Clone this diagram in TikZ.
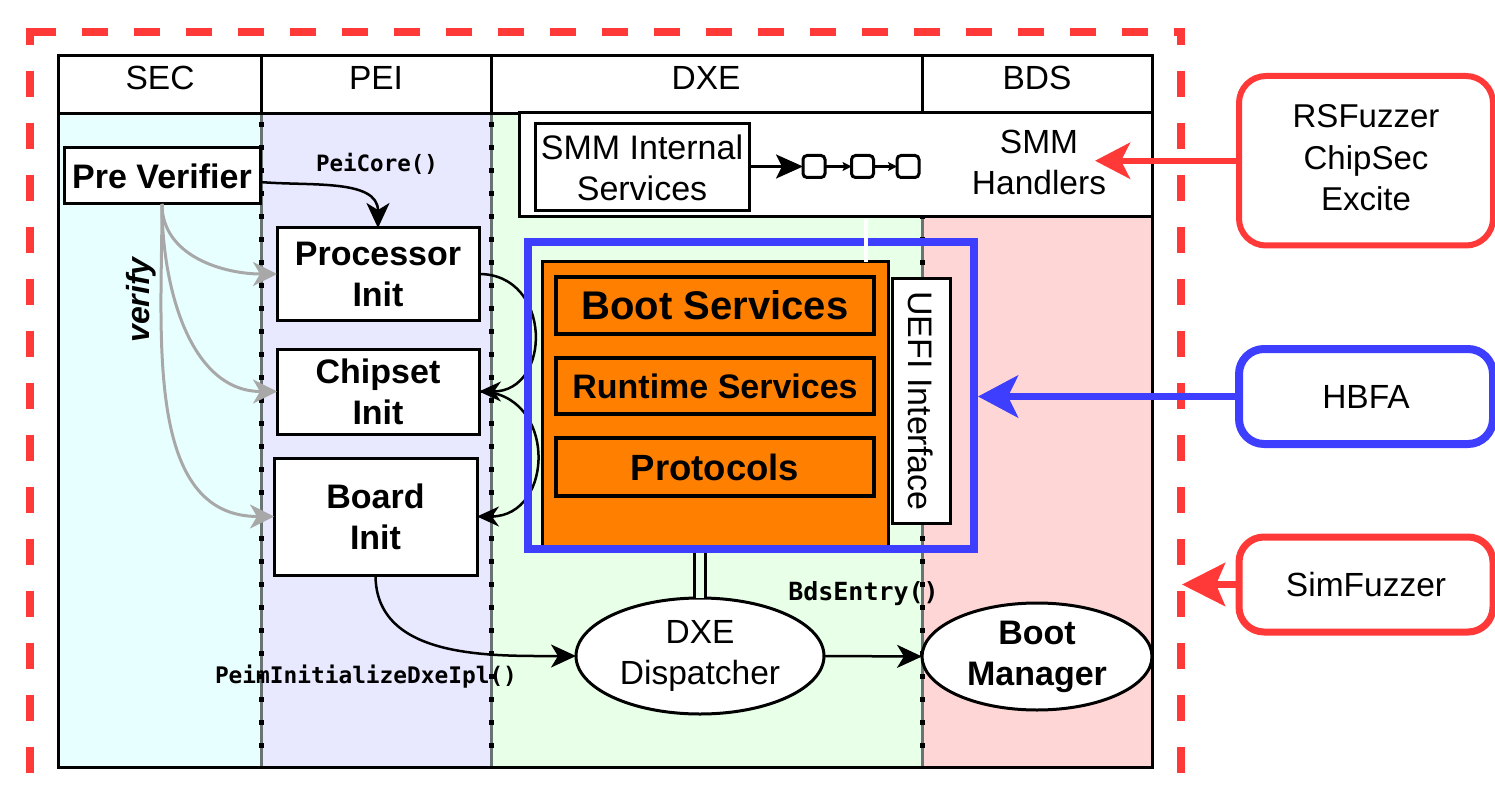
\documentclass[tikz,border=0pt]{standalone}
\usepackage{fontspec}
\setmainfont{Liberation Sans}
\newfontfamily\codefont{DejaVu Sans Mono}
\usetikzlibrary{arrows.meta,shapes.geometric}

\definecolor{secbg}{RGB}{232,255,255}
\definecolor{peibg}{RGB}{232,232,255}
\definecolor{dxebg}{RGB}{232,255,232}
\definecolor{bdsbg}{RGB}{255,214,214}
\definecolor{fwred}{RGB}{255,56,56}
\definecolor{fwblue}{RGB}{62,62,255}
\definecolor{dxeorange}{RGB}{255,128,0}
\definecolor{verifygray}{RGB}{168,168,168}
\definecolor{sepgray}{RGB}{105,115,115}

\tikzset{
  lbl/.style={font=\fontsize{33.5}{41}\selectfont, align=center},
  blbl/.style={font=\bfseries\fontsize{34}{41}\selectfont, align=center},
  wbox/.style={draw=black, line width=3pt, fill=white},
  obox/.style={draw=black, line width=3.5pt, fill=dxeorange, minimum width=318pt},
  chainbox/.style={draw=black, line width=3pt, fill=white, rounded corners=4pt,
                   minimum width=22pt, minimum height=22pt},
  codelbl/.style={font=\codefont\bfseries\fontsize{22.5}{26}\selectfont},
  tipK/.style={line width=2.5pt, -{Stealth[length=25pt,width=23pt,inset=7pt]}},
  arcK/.style={line width=2.5pt, -{Stealth[length=22pt,width=20pt,inset=7pt]}},
  tipG/.style={verifygray, line width=3pt, -{Stealth[length=24pt,width=24pt,inset=7pt]}},
  fuzzbox/.style={fill=white, minimum width=254pt},
  redframe/.style={fwred, line width=8pt, dash pattern=on 26pt off 26pt}
}

\begin{document}
\begin{tikzpicture}[x=1pt,y=1pt, every node/.style={inner sep=0pt, outer sep=0pt}]
\useasboundingbox (0,0) rectangle (1495,-799);
\fill[white] (0,0) rectangle (1495,-799);

% phase columns
\fill[secbg] (58,-114) rectangle (261,-767);
\fill[peibg] (261,-114) rectangle (491,-767);
\fill[dxebg] (491,-114) rectangle (922,-767);
\fill[bdsbg] (922,-114) rectangle (1152,-767);

% dotted phase separators
\foreach \x in {261,491,922} {
  \draw[sepgray, line width=3pt] (\x,-114) -- (\x,-767);
  \draw[black, line width=5pt, dash pattern=on 5pt off 18pt, dash phase=15pt] (\x,-114) -- (\x,-767);
}

% header row
\draw[line width=3pt, fill=white] (58,-56) rectangle (1152,-114);
\foreach \x in {261,491,922} \draw[line width=3pt] (\x,-56) -- (\x,-114);
\node[lbl] (hsec) at (160,-78) {SEC};
\node[lbl] (hpei) at (376,-78) {PEI};
\node[lbl] (hdxe) at (706,-78) {DXE};
\node[lbl] (hbds) at (1037,-78) {BDS};

% frame
\draw[line width=3pt] (58,-56) rectangle (1152,-767);

% SMM
\node[wbox, minimum width=633pt, minimum height=104pt] (smm) at (835.5,-165) {};
\node[wbox, lbl, font=\fontsize{34}{41}\selectfont, minimum width=214pt, minimum height=87pt] (smmint) at (642,-167.5) {SMM Internal\\Services};
\node[chainbox] (ch1) at (814,-166.5) {};
\node[chainbox] (ch2) at (862.5,-166.5) {};
\node[chainbox] (ch3) at (908,-166.5) {};
\draw[line width=3pt, -{Stealth[length=27pt,width=24pt,inset=6pt]}] (smmint.east |- ch1) -- (ch1.west);
\draw[line width=2.5pt, -{Stealth[length=9pt,width=9pt,inset=2pt]}] (ch1) -- (ch2);
\draw[line width=2.5pt, -{Stealth[length=9pt,width=9pt,inset=2pt]}] (ch2) -- (ch3);
\node[lbl] (smmh) at (1039,-162.5) {SMM\\Handlers};

% SEC / PEI
\node[wbox, blbl, minimum width=196pt, minimum height=56pt] (pv) at (162,-176) {Pre Verifier};
\node[wbox, blbl, minimum width=202pt, minimum height=92pt] (proc) at (378,-274) {Processor\\Init};
\node[wbox, blbl, minimum width=202pt, minimum height=85pt] (chip) at (378,-391.5) {Chipset\\Init};
\node[wbox, blbl, minimum width=203pt, minimum height=117pt] (board) at (375.5,-516.5) {Board\\Init};

\node[codelbl] (peicore) at (377,-164) {PeiCore()};
\node[font=\bfseries\itshape\fontsize{32}{38}\selectfont, rotate=90] (verify) at (141,-300) {verify};

\draw[tipG] (pv.south) to[out=-90,in=180] (proc.west);
\draw[tipG] (pv.south) to[out=-90,in=180] (chip.west);
\draw[tipG] (pv.south) to[out=-90,in=180] (board.west);

\draw[tipK] ([yshift=-6pt]pv.east) to[out=-5,in=90] (proc.north);
\draw[arcK] (proc.east) to[out=0,in=0,looseness=1.6] (chip.east);
\draw[arcK] (chip.east) to[out=0,in=0,looseness=1.6] (board.east);

% DXE core
\node[draw=black, line width=3pt, fill=dxeorange, minimum width=346pt, minimum height=286pt] (orange) at (715,-405) {};
\node[obox, font=\bfseries\fontsize{40}{48}\selectfont, minimum height=57pt] (boot) at (715,-305.5) {Boot Services};
\node[obox, font=\bfseries\fontsize{34}{40}\selectfont, minimum height=56pt] (rt) at (715,-386) {Runtime Services};
\node[obox, font=\bfseries\fontsize{36.5}{44}\selectfont, minimum height=58pt] (prot) at (715,-467) {Protocols};
\node[wbox, lbl, font=\fontsize{34}{41}\selectfont, rotate=-90, minimum width=244pt, minimum height=58pt] (uefi) at (921,-401) {UEFI Interface};

\node[draw=black, line width=3pt, fill=white, ellipse, lbl, minimum width=248pt, minimum height=116pt] (dxe) at (700,-656) {DXE\\Dispatcher};
\node[draw=black, line width=3pt, fill=white, ellipse, blbl, minimum width=230pt, minimum height=107pt] (bm) at (1037,-656.5) {Boot\\Manager};

\coordinate (bbot) at (700,-549);
\draw[line width=3pt, double=dxebg, double distance=8pt] (dxe.north) -- (bbot);

\node[draw=fwblue, line width=8pt, minimum width=446pt, minimum height=307pt] (bluebox) at (751,-395.5) {};

\coordinate (wlx) at (866,0);
\draw[white, line width=4pt] ([yshift=-2pt]smm.south -| wlx) -- (orange.north -| wlx);

\draw[tipK] (board.south) to[out=-90,in=180] (dxe.west);
\draw[tipK] (dxe.east) -- (bm.west);

\node[codelbl, font=\codefont\bfseries\fontsize{22.8}{26}\selectfont] (dxeipl) at (366,-677) {PeimInitializeDxeIpl()};
\node[codelbl, font=\codefont\bfseries\fontsize{25}{28}\selectfont] (bdsentry) at (863.5,-594) {BdsEntry()};

% outer dashed boundary
\draw[redframe] (30,-32) -- (1181,-32);
\draw[redframe, dash phase=9pt] (30,-28) -- (30,-830);
\draw[redframe, dash phase=9pt] (1181,-28) -- (1181,-830);

% fuzzers
\node[fuzzbox, draw=fwred, line width=6pt, rounded corners=27pt, minimum height=169.5pt] (rs) at (1366,-160.75) {};
\node[lbl, font=\fontsize{33}{41.5}\selectfont] (rstext) at (1366,-158) {RSFuzzer\\ChipSec\\Excite};
\node[fuzzbox, lbl, draw=fwblue, line width=8pt, rounded corners=25pt, minimum height=95pt] (hbfa) at (1366,-396.5) {HBFA};
\node[fuzzbox, lbl, draw=fwred, line width=7pt, rounded corners=25pt, minimum height=95pt] (sim) at (1366,-584.5) {SimFuzzer};

\coordinate (smmtip) at (1095,-160.75);
\coordinate (hbfatip) at ([xshift=4pt]bluebox.east);
\coordinate (simtip) at (1182,-584.5);
\draw[fwred, line width=6pt, -{Stealth[length=35pt,width=36pt,inset=9pt]}] (rs.west) -- (smmtip);
\draw[fwblue, line width=7pt, -{Stealth[length=40pt,width=42pt,inset=10pt]}] (hbfa.west) -- (hbfatip |- hbfa.west);
\draw[fwred, line width=7pt, -{Stealth[length=43pt,width=43pt,inset=9pt]}] (sim.west) -- (simtip);
\end{tikzpicture}
\end{document}
